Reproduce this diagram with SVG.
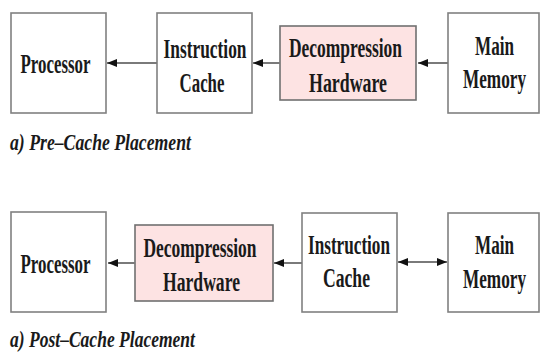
<svg xmlns="http://www.w3.org/2000/svg" width="540" height="353" viewBox="0 0 540 353">
  <style>
    .box { fill: #ffffff; stroke: #808080; stroke-width: 1.6; }
    .hw { fill: #fde3e3; stroke: #707070; stroke-width: 1.6; }
    .lbl { font-family: "Liberation Serif", "Times New Roman", serif; font-size: 28px; font-weight: bold; fill: #1a1a1a; text-anchor: middle; }
    .cap { font-family: "Liberation Serif", "Times New Roman", serif; font-size: 23px; font-weight: bold; font-style: italic; fill: #1a1a1a; }
    .wire { stroke: #7a7a7a; stroke-width: 2; fill: none; }
  </style>
  <defs>
    <marker id="head" markerUnits="userSpaceOnUse" markerWidth="11" markerHeight="9" refX="10" refY="4" orient="auto-start-reverse">
      <path d="M0,0 L10,4 L0,8 z" fill="#111111"/>
    </marker>
  </defs>

  <rect width="540" height="353" fill="#ffffff"/>

  <!-- a) pre-cache placement -->
  <g id="proc-a">
    <rect class="box" x="11" y="13" width="95" height="100"/>
    <text class="lbl" x="55.5" y="73" textLength="70" lengthAdjust="spacingAndGlyphs">Processor</text>
  </g>
  <g id="icache-a">
    <rect class="box" x="157" y="13" width="95" height="100"/>
    <text class="lbl" x="205" y="58" textLength="83" lengthAdjust="spacingAndGlyphs">Instruction</text>
    <text class="lbl" x="202" y="92" textLength="45" lengthAdjust="spacingAndGlyphs">Cache</text>
  </g>
  <g id="decomp-a">
    <rect class="hw" x="280" y="26" width="136" height="74"/>
    <text class="lbl" x="345.5" y="57" textLength="113" lengthAdjust="spacingAndGlyphs">Decompression</text>
    <text class="lbl" x="348" y="92" textLength="78" lengthAdjust="spacingAndGlyphs">Hardware</text>
  </g>
  <g id="mem-a">
    <rect class="box" x="448" y="13" width="91" height="100"/>
    <text class="lbl" x="494.5" y="55" textLength="39" lengthAdjust="spacingAndGlyphs">Main</text>
    <text class="lbl" x="494.5" y="88" textLength="63" lengthAdjust="spacingAndGlyphs">Memory</text>
  </g>
  <text class="cap" x="10" y="150" textLength="181" lengthAdjust="spacingAndGlyphs">a) Pre–Cache Placement</text>

  <!-- a) post-cache placement -->
  <g id="proc-b">
    <rect class="box" x="11" y="212" width="95" height="100"/>
    <text class="lbl" x="55.5" y="273" textLength="70" lengthAdjust="spacingAndGlyphs">Processor</text>
  </g>
  <g id="decomp-b">
    <rect class="hw" x="135" y="225" width="138" height="76"/>
    <text class="lbl" x="200" y="257" textLength="113" lengthAdjust="spacingAndGlyphs">Decompression</text>
    <text class="lbl" x="201.5" y="291" textLength="77" lengthAdjust="spacingAndGlyphs">Hardware</text>
  </g>
  <g id="icache-b">
    <rect class="box" x="302" y="213" width="95" height="99"/>
    <text class="lbl" x="349" y="254" textLength="82" lengthAdjust="spacingAndGlyphs">Instruction</text>
    <text class="lbl" x="346.5" y="287" textLength="47" lengthAdjust="spacingAndGlyphs">Cache</text>
  </g>
  <g id="mem-b">
    <rect class="box" x="448" y="213" width="91" height="99"/>
    <text class="lbl" x="494.5" y="254" textLength="39" lengthAdjust="spacingAndGlyphs">Main</text>
    <text class="lbl" x="494.5" y="288" textLength="63" lengthAdjust="spacingAndGlyphs">Memory</text>
  </g>
  <text class="cap" x="10" y="347" textLength="185" lengthAdjust="spacingAndGlyphs">a) Post–Cache Placement</text>

  <!-- connectors -->
  <g id="connectors">
    <line class="wire" x1="157" y1="63" x2="107" y2="63" marker-end="url(#head)"/>
    <line class="wire" x1="280" y1="63" x2="253" y2="63" marker-end="url(#head)"/>
    <line class="wire" x1="448" y1="63" x2="418" y2="63" marker-end="url(#head)"/>
    <line class="wire" x1="135" y1="263" x2="108" y2="263" marker-end="url(#head)"/>
    <line class="wire" x1="302" y1="263" x2="274" y2="263" marker-end="url(#head)"/>
    <line class="wire" x1="398" y1="262" x2="447" y2="262" marker-start="url(#head)" marker-end="url(#head)"/>
  </g>
</svg>
